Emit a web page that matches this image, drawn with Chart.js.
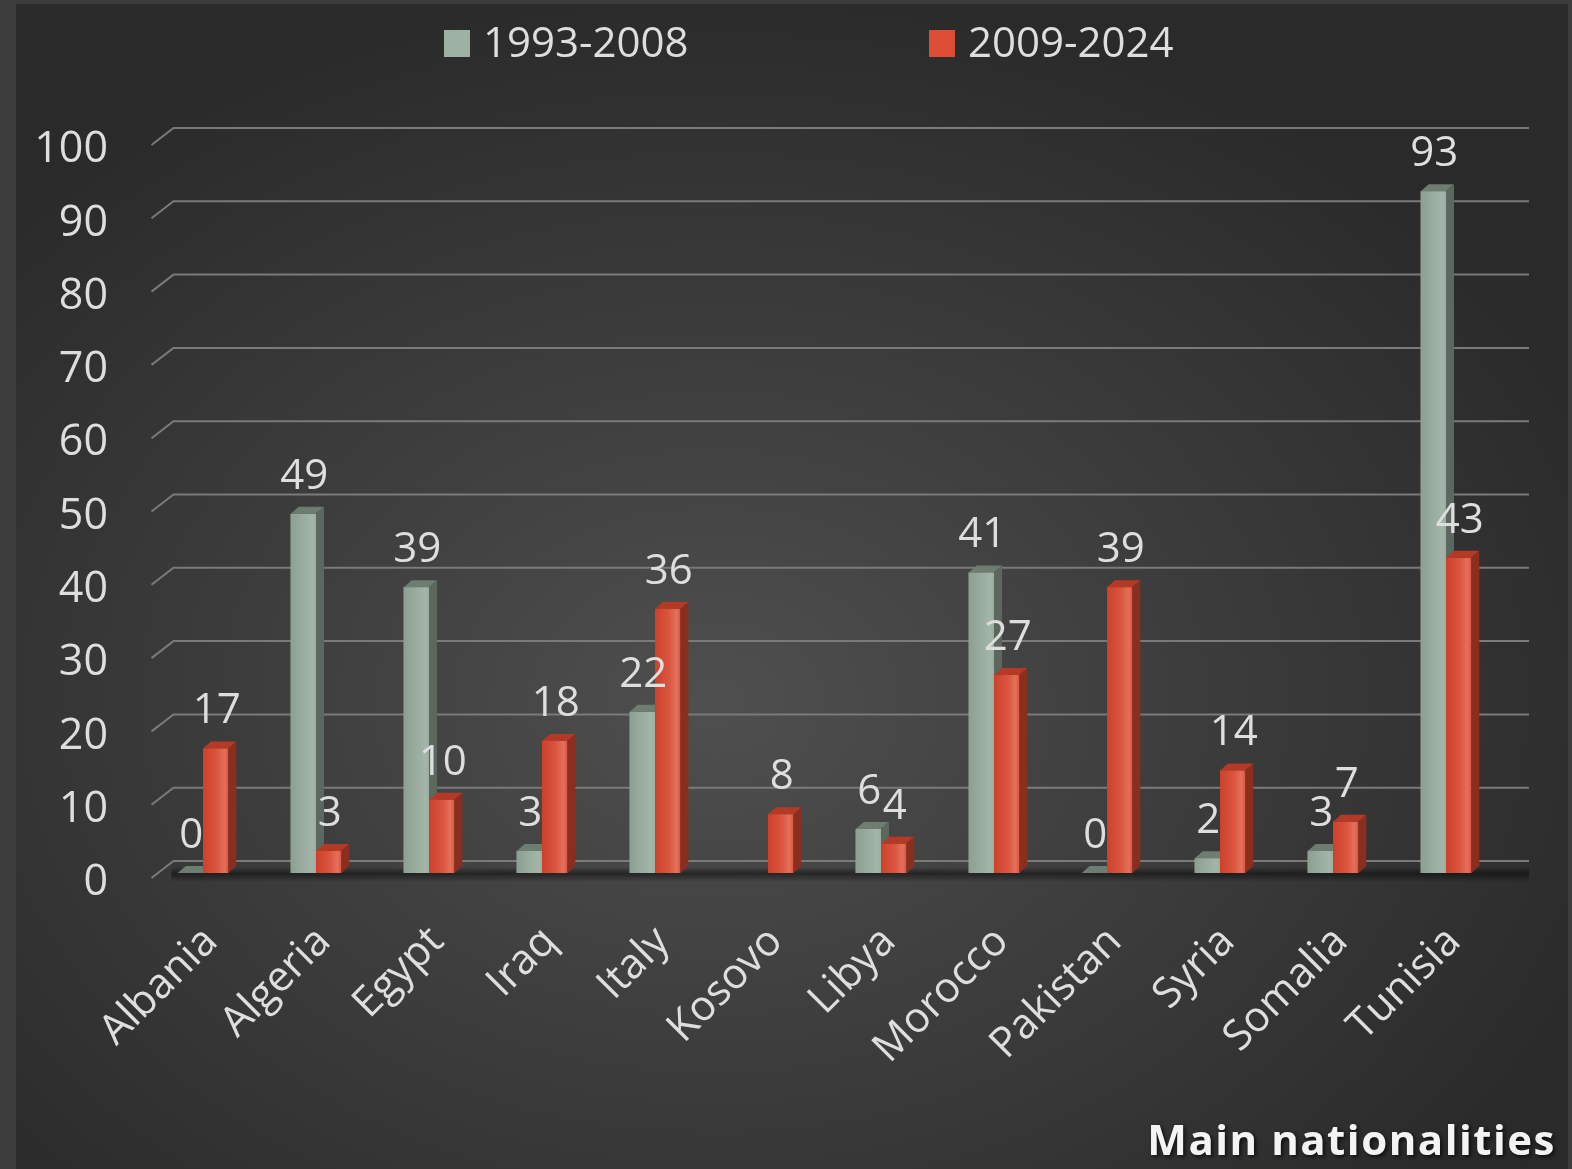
<!DOCTYPE html>
<html>
<head>
<meta charset="utf-8">
<title>Main nationalities</title>
<script src="https://cdn.jsdelivr.net/npm/chart.js@4.4.1/dist/chart.umd.min.js"></script>
<style>
  html, body { margin: 0; padding: 0; background: #3c3c3c; }
  #frame { position: absolute; left: 0; top: 0; width: 1572px; height: 1169px; overflow: hidden; }
  #panel {
    position: absolute; left: 16px; top: 4px; width: 1552px; height: 1165px;
    background: radial-gradient(ellipse 62% 62% at 45% 60%, #4f4f4f 0%, #3e3e3e 45%, #2a2a2a 100%);
  }
  canvas { position: absolute; left: 0; top: 0; }
</style>
</head>
<body>
<div id="frame">
  <div id="panel"></div>
  <canvas id="chart" width="1572" height="1169"></canvas>
</div>
<script>
// categories and values
const categories = ['Albania', 'Algeria', 'Egypt', 'Iraq', 'Italy', 'Kosovo', 'Libya',
                    'Morocco', 'Pakistan', 'Syria', 'Somalia', 'Tunisia'];
const firstPeriodLabel = '1993-2008';
const firstPeriodValues = [0, 49, 39, 3, 22, null, 6, 41, 0, 2, 3, 93];
const secondPeriodLabel = '2009-2024';
const secondPeriodValues = [17, 3, 10, 18, 36, 8, 4, 27, 39, 14, 7, 43];
const chartTitle = 'Main nationalities';

const FONT = '"Open Sans", "Noto Sans", sans-serif';
const TEXT = '#dedede';
const DX = 8, DY = 7;   // depth of the fake 3d bars

// colours of the 3d faces, per series
const faces = [
  { front: ['#8c9f92', '#9aaea1', '#a4b5aa'], top: '#6d7d72', side: '#5b675f', legend: '#9db1a4' },
  { front: ['#cd412b', '#db553f', '#e4705c'], top: '#b43a26', side: '#8a2e20', legend: '#dd4d36' }
];

// grid lines drawn like excel's 3d back wall
const wallGrid = {
  id: 'wallGrid',
  beforeDatasetsDraw(chart) {
    const {ctx, chartArea, scales: {y}} = chart;
    ctx.save();
    ctx.strokeStyle = '#7a7a7a';
    ctx.lineWidth = 2;
    y.ticks.forEach(t => {
      const py = y.getPixelForValue(t.value);
      ctx.beginPath();
      ctx.moveTo(chartArea.left + 5, py + 5);
      ctx.lineTo(chartArea.left + 27, py - 12);
      ctx.lineTo(1529, py - 12);
      ctx.stroke();
    });
    // floor shadow
    const base = y.getPixelForValue(0);
    const g = ctx.createLinearGradient(0, base - 6, 0, base + 9);
    g.addColorStop(0, 'rgba(0,0,0,0)');
    g.addColorStop(0.45, 'rgba(0,0,0,0.45)');
    g.addColorStop(1, 'rgba(0,0,0,0)');
    ctx.fillStyle = g;
    ctx.fillRect(chartArea.left + 25, base - 6, 1529 - chartArea.left - 25, 15);
    ctx.restore();
  }
};

// redraw each bar with a top and side face, grey first then red, category by category
const bars3d = {
  id: 'bars3d',
  afterDatasetsDraw(chart) {
    const ctx = chart.ctx;
    ctx.save();
    categories.forEach((c, i) => {
      chart.data.datasets.forEach((ds, d) => {
        if (ds.data[i] === null) return;
        const el = chart.getDatasetMeta(d).data[i];
        const f = faces[d];
        const left = el.x - el.width / 2, right = el.x + el.width / 2;
        const top = el.y, base = el.base;

        const g = ctx.createLinearGradient(left, 0, right, 0);
        g.addColorStop(0, f.front[0]);
        g.addColorStop(0.55, f.front[1]);
        g.addColorStop(0.85, f.front[2]);
        g.addColorStop(1, f.front[1]);
        ctx.fillStyle = g;
        ctx.fillRect(left, top, right - left, base - top);

        ctx.fillStyle = f.top;
        ctx.beginPath();
        ctx.moveTo(left, top);
        ctx.lineTo(left + DX, top - DY);
        ctx.lineTo(right + DX, top - DY);
        ctx.lineTo(right, top);
        ctx.closePath();
        ctx.fill();

        ctx.fillStyle = f.side;
        ctx.beginPath();
        ctx.moveTo(right, top);
        ctx.lineTo(right + DX, top - DY);
        ctx.lineTo(right + DX, base - DY);
        ctx.lineTo(right, base);
        ctx.closePath();
        ctx.fill();
      });
    });
    ctx.restore();
  }
};

// value labels above the bars
const valueLabels = {
  id: 'valueLabels',
  afterDatasetsDraw(chart) {
    const ctx = chart.ctx;
    ctx.save();
    ctx.font = '42px ' + FONT;
    ctx.fillStyle = TEXT;
    ctx.textAlign = 'center';
    ctx.textBaseline = 'middle';
    chart.data.datasets.forEach((ds, d) => {
      chart.getDatasetMeta(d).data.forEach((el, i) => {
        const v = ds.data[i];
        if (v === null) return;
        ctx.fillText(String(v), el.x + 1, el.y - 37);
      });
    });
    ctx.restore();
  }
};

// legend at the top and the caption bottom right
const legendAndCaption = {
  id: 'legendAndCaption',
  afterDraw(chart) {
    const ctx = chart.ctx;
    ctx.save();
    const items = [{x: 444}, {x: 929}];
    ctx.font = '42px ' + FONT;
    ctx.textBaseline = 'middle';
    ctx.textAlign = 'left';
    chart.data.datasets.forEach((ds, d) => {
      const x = items[d].x;
      ctx.fillStyle = faces[d].legend;
      ctx.fillRect(x, 30, 26, 27);
      ctx.fillStyle = TEXT;
      ctx.fillText(ds.label, x + 39, 45);
    });

    ctx.font = 'bold 42px ' + FONT;
    ctx.letterSpacing = '1.5px';
    ctx.textAlign = 'right';
    ctx.textBaseline = 'alphabetic';
    ctx.shadowColor = 'rgba(0,0,0,0.7)';
    ctx.shadowOffsetX = 2;
    ctx.shadowOffsetY = 2;
    ctx.shadowBlur = 4;
    ctx.fillStyle = '#f4f4f4';
    ctx.fillText(chartTitle, 1556, 1155);
    ctx.restore();
  }
};

new Chart(document.getElementById('chart'), {
  type: 'bar',
  data: {
    labels: categories,
    datasets: [
      { label: firstPeriodLabel, data: firstPeriodValues, backgroundColor: faces[0].legend },
      { label: secondPeriodLabel, data: secondPeriodValues, backgroundColor: faces[1].legend }
    ]
  },
  options: {
    responsive: false,
    animation: false,
    categoryPercentage: 0.448,
    barPercentage: 1.0,
    layout: { padding: { top: 140, left: 0, right: 69.5, bottom: 0 } },
    plugins: {
      legend: { display: false },
      title: { display: false },
      tooltip: { enabled: false }
    },
    scales: {
      x: {
        grid: { display: false, drawTicks: false },
        border: { display: false },
        ticks: {
          color: TEXT,
          font: { family: FONT, size: 42 },
          minRotation: 45,
          maxRotation: 45,
          padding: 44,
          labelOffset: 8,
          autoSkip: false
        },
        afterFit(scale) { scale.height = 296; }
      },
      y: {
        min: 0,
        max: 100,
        grid: { display: false, drawTicks: false },
        border: { display: false },
        ticks: {
          stepSize: 10,
          color: TEXT,
          font: { family: FONT, size: 43 },
          padding: 38.5,
          labelOffset: 10
        },
        afterFit(scale) { scale.width = 146.5; }
      }
    }
  },
  plugins: [wallGrid, bars3d, valueLabels, legendAndCaption]
});
</script>
</body>
</html>
